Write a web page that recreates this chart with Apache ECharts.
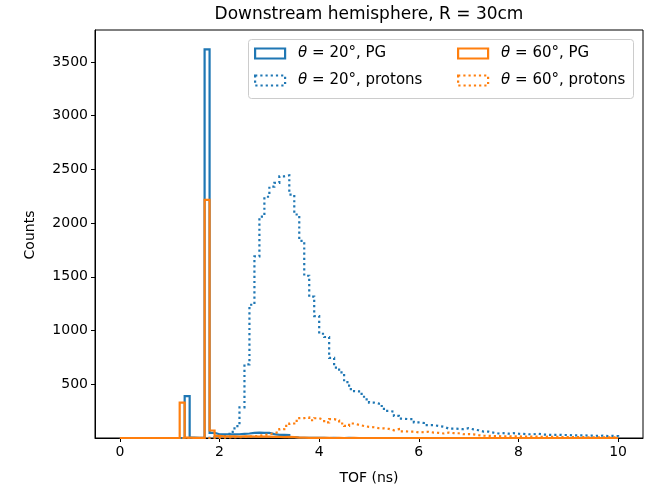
<!DOCTYPE html>
<html><head><meta charset="utf-8">
<script src="https://cdn.jsdelivr.net/npm/echarts@6/dist/echarts.min.js"></script>
<style>html,body{margin:0;padding:0;background:#fff}#c{width:647px;height:487px}</style>
</head><body><div id="c"></div>
<script>
// Histogram bins: 100 bins of 0.1 ns from 0 to 10 ns
const binStart = 0;
const binWidth = 0.1;
const xTicks = [0, 2, 4, 6, 8, 10];
const yTicks = [500, 1000, 1500, 2000, 2500, 3000, 3500];
const seriesNames = ['θ = 20°, PG', 'θ = 20°, protons', 'θ = 60°, PG', 'θ = 60°, protons'];

const pg20 = [
  0,0,0,0,0,0,0,0,0,0,
  0,0,0,390,3,2,3,3616,48,35,
  35,35,33,35,38,42,48,50,47,48,
  36,30,30,28,8,4,2,1,2,1,
  1,0,1,0,0,1,0,0,0,0,
  0,0,0,0,0,0,0,0,0,0,
  0,0,0,0,0,0,0,0,0,0,
  0,0,0,0,0,0,0,0,0,0,
  0,0,0,0,0,0,0,0,0,0,
  0,0,0,0,0,0,0,0,0,0];
const protons20 = [
  0,0,0,0,0,0,0,0,0,0,
  0,0,0,0,0,0,0,2,10,20,
  25,35,57,110,285,685,1240,1690,2060,2245,
  2340,2375,2435,2445,2265,2080,1835,1510,1315,1135,
  970,940,745,655,610,520,455,435,410,360,
  330,320,298,252,245,205,180,175,175,145,
  140,120,120,112,105,88,88,85,82,91,
  80,72,60,60,50,42,45,40,45,40,
  38,35,35,40,32,30,28,30,28,28,
  25,25,25,22,22,20,22,18,20,18];
const pg60 = [
  0,0,0,0,0,0,0,0,0,0,
  0,0,330,3,2,2,2,2217,70,20,
  16,15,15,14,15,15,14,13,14,12,
  10,10,9,10,8,4,3,2,2,1,
  1,1,0,1,0,0,1,0,0,0,
  0,0,0,0,0,0,0,0,0,0,
  0,0,0,0,0,0,0,0,0,0,
  0,0,0,0,0,0,0,0,0,0,
  0,0,0,0,0,0,0,0,0,0,
  0,0,0,0,0,0,0,0,0,0];
const protons60 = [
  0,0,0,0,0,0,0,0,0,0,
  0,0,0,0,0,0,0,0,0,2,
  3,5,6,8,10,12,15,20,28,35,
  45,57,82,112,135,160,185,190,165,184,
  168,145,176,165,135,112,135,122,112,103,
  100,91,90,85,72,82,62,60,60,52,
  55,58,50,48,42,50,45,44,35,36,
  34,26,22,20,18,17,15,16,14,15,
  13,14,12,12,11,12,10,10,9,9,
  8,8,9,7,7,6,7,6,5,5];

function stepPoints(counts) {
  const pts = [[binStart, 0]];
  counts.forEach((c, i) => pts.push([+(binStart + i * binWidth).toFixed(4), c]));
  pts.push([+(binStart + counts.length * binWidth).toFixed(4), 0]);
  return pts;
}

const BLUE = '#1f77b4', ORANGE = '#ff7f0e';
const FONT = 'DejaVu Sans';
const dotted = [2.2, 3];

function mkSeries(name, counts, color, dash) {
  return {
    name, type: 'line', step: 'end', data: stepPoints(counts),
    symbol: 'none', showSymbol: false, clip: true,
    lineStyle: { color, width: 2.2, type: dash ? dotted : 'solid', cap: 'butt', join: 'miter' },
    itemStyle: { color },
    emphasis: { disabled: true }, silent: true
  };
}

function mkLegend(name, color, dash, left, top) {
  return {
    left, top, padding: 0, selectedMode: false, itemWidth: 30, itemHeight: 10,
    data: [{ name, icon: 'rect', itemStyle: { color: 'rgba(0,0,0,0)', borderColor: color, borderWidth: 2.2, borderType: dash ? dotted : 'solid' } }],
    formatter: n => '{s|}{i|θ}' + n.slice(1),
    textStyle: { fontFamily: FONT, fontSize: 15, color: '#000',
      rich: { s: { width: 8 }, i: { fontStyle: 'italic', fontFamily: FONT, fontSize: 15 } } }
  };
}

const chart = echarts.init(document.getElementById('c'), null, { renderer: 'canvas' });
chart.setOption({
  animation: false,
  backgroundColor: '#fff',
  grid: { left: 95, right: 4, top: 30, bottom: 49, show: true, borderColor: '#000', borderWidth: 1, backgroundColor: 'rgba(0,0,0,0)' },
  xAxis: {
    type: 'value', min: -0.5, max: 10.5,
    axisLine: { show: true, onZero: false, lineStyle: { color: '#000', width: 1 } },
    axisTick: { show: true, inside: false, length: 4, customValues: xTicks, lineStyle: { color: '#000' } },
    axisLabel: { customValues: xTicks, margin: 7, color: '#000', fontFamily: FONT, fontSize: 14, formatter: v => String(v) },
    splitLine: { show: false }
  },
  yAxis: {
    type: 'value', min: 0, max: 3797,
    axisLine: { show: true, onZero: false, lineStyle: { color: '#000', width: 1 } },
    axisTick: { show: true, inside: false, length: 4, customValues: yTicks, lineStyle: { color: '#000' } },
    axisLabel: { customValues: yTicks, margin: 7, color: '#000', fontFamily: FONT, fontSize: 14, formatter: v => String(v) },
    splitLine: { show: false }
  },
  legend: [
    mkLegend(seriesNames[0], BLUE, false, 254, 46),
    mkLegend(seriesNames[1], BLUE, true, 254, 73),
    mkLegend(seriesNames[2], ORANGE, false, 457, 46),
    mkLegend(seriesNames[3], ORANGE, true, 457, 73)
  ],
  graphic: [
    { type: 'rect', z: 3, shape: { x: 248.5, y: 39.5, width: 385, height: 59, r: 3 },
      style: { fill: 'rgba(255,255,255,0.8)', stroke: '#cccccc', lineWidth: 1 } },
    { type: 'text', x: 369, y: 15, style: { text: 'Downstream hemisphere, R = 30cm', fontFamily: FONT, fontSize: 17, fill: '#000', textAlign: 'center', textVerticalAlign: 'middle' } },
    { type: 'text', x: 369, y: 478, style: { text: 'TOF (ns)', fontFamily: FONT, fontSize: 14, fill: '#000', textAlign: 'center', textVerticalAlign: 'middle' } },
    { type: 'text', x: 30, y: 235, rotation: Math.PI / 2, style: { text: 'Counts', fontFamily: FONT, fontSize: 14, fill: '#000', textAlign: 'center', textVerticalAlign: 'middle' } }
  ],
  series: [
    mkSeries(seriesNames[0], pg20, BLUE, false),
    mkSeries(seriesNames[1], protons20, BLUE, true),
    mkSeries(seriesNames[2], pg60, ORANGE, false),
    mkSeries(seriesNames[3], protons60, ORANGE, true)
  ]
});
</script>
</body></html>
